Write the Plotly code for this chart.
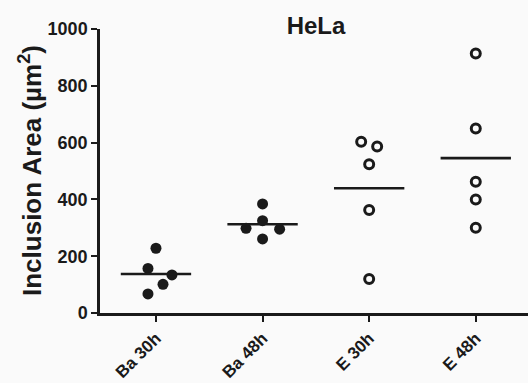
import numpy as np
import plotly.graph_objects as go

categories = ["Ba 30h", "Ba 48h", "E 30h", "E 48h"]
ba30 = [228, 157, 134, 101, 67]
ba48 = [384, 325, 298, 295, 261]
e30 = [603, 586, 524, 363, 120]
e48 = [914, 650, 462, 400, 300]
y_ticks = [0, 200, 400, 600, 800, 1000]

# horizontal spread of points within a group (layout only)
jitter = [
    [0, -0.075, 0.15, 0.066, -0.075],
    [0, 0, -0.155, 0.16, 0],
    [-0.075, 0.075, 0, 0, 0],
    [0, 0, 0, 0, 0],
]
groups = [ba30, ba48, e30, e48]
filled = [True, True, False, False]

fig = go.Figure()
for i, (vals, jit, fill) in enumerate(zip(groups, jitter, filled)):
    xs = [i + j for j in jit]
    if fill:
        marker = dict(symbol="circle", size=11, color="#1a1a1a", line=dict(width=0))
    else:
        marker = dict(symbol="circle-open", size=9, color="#1a1a1a", line=dict(width=3, color="#1a1a1a"))
    fig.add_trace(go.Scatter(x=xs, y=vals, mode="markers", marker=marker,
                             showlegend=False, hoverinfo="y", cliponaxis=False))
    m = float(np.mean(vals))
    fig.add_trace(go.Scatter(x=[i - 0.33, i + 0.33], y=[m, m], mode="lines",
                             line=dict(color="#1a1a1a", width=2.6),
                             showlegend=False, hoverinfo="skip"))

font_family = "Arial, Liberation Sans, sans-serif"
fig.update_layout(
    width=528, height=383,
    margin=dict(l=100, r=0, t=29, b=70),
    paper_bgcolor="#fafafa", plot_bgcolor="#fafafa",
    font=dict(family=font_family, color="#1a1a1a"),
    title=dict(text="<b>HeLa</b>", font=dict(size=24, family=font_family, color="#1a1a1a"),
               xref="container", x=316 / 528, xanchor="center",
               yref="container", y=1 - 26 / 383, yanchor="middle"),
    xaxis=dict(range=[-0.525, 3.49], tickvals=list(range(len(categories))),
               ticktext=["<b>%s</b>" % c for c in categories], tickangle=-45,
               automargin=False,
               showgrid=False, zeroline=False, showline=True, linecolor="#1a1a1a",
               linewidth=2.5, ticks="outside", ticklen=6, tickwidth=2, tickcolor="#1a1a1a",
               tickfont=dict(size=17, family=font_family, color="#1a1a1a")),
    yaxis=dict(range=[0, 1000], tickvals=y_ticks, ticktext=["<b>%d</b>" % v for v in y_ticks],
               automargin=False,
               showgrid=False, zeroline=False, showline=True, linecolor="#1a1a1a",
               linewidth=2.5, ticks="outside", ticklen=6, tickwidth=2, tickcolor="#1a1a1a",
               tickfont=dict(size=18, family=font_family, color="#1a1a1a")),
    annotations=[dict(text="<b>Inclusion Area (µm<sup>2</sup>)</b>", textangle=-90,
                      xref="paper", yref="paper", x=(30 - 100) / 428, y=0.5,
                      xanchor="center", yanchor="middle", showarrow=False,
                      font=dict(size=26, family=font_family, color="#1a1a1a"))],
)

fig.write_html("out.html")
